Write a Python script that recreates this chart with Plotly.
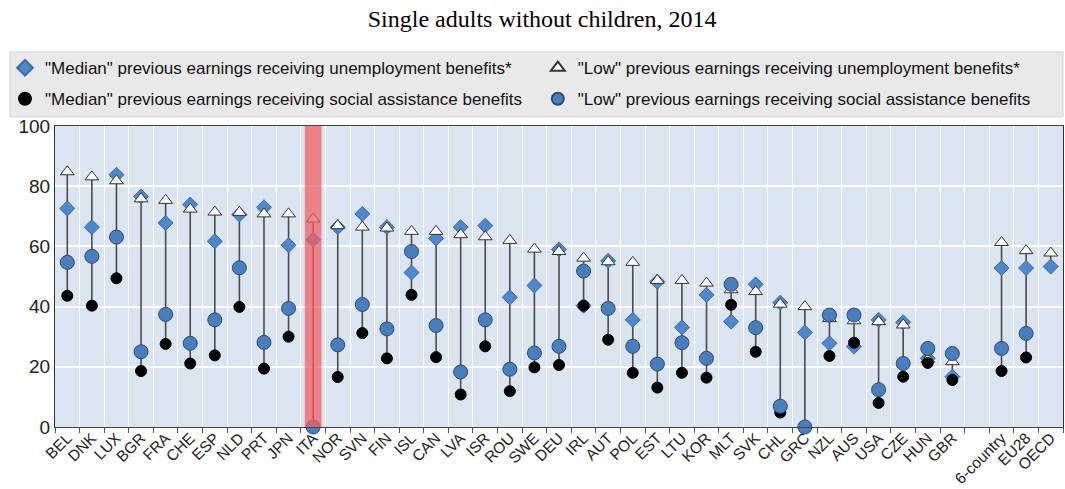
import plotly.graph_objects as go

categories = ["BEL", "DNK", "LUX", "BGR", "FRA", "CHE", "ESP", "NLD", "PRT", "JPN",
              "ITA", "NOR", "SVN", "FIN", "ISL", "CAN", "LVA", "ISR", "ROU", "SWE",
              "DEU", "IRL", "AUT", "POL", "EST", "LTU", "KOR", "MLT", "SVK", "CHL",
              "GRC", "NZL", "AUS", "USA", "CZE", "HUN", "GBR", " ", "6-country", "EU28", "OECD"]

median_unemployment = [72.6, 66.4, 83.8, 76.6, 67.8, 73.9, 61.7, 70.6, 73.0, 60.4,
                       62.2, 66.4, 70.8, 66.4, 51.3, 62.6, 66.4, 66.9, 43.1, 47.0,
                       59.0, 40.3, 55.2, 35.6, 48.3, 33.1, 43.9, 35.0, 47.4, 41.3,
                       31.4, 27.8, 26.7, 35.6, 34.8, 22.8, 16.7, None, 52.8, 52.8, 53.3]

low_unemployment = [84.8, 83.1, 81.8, 75.8, 75.3, 72.4, 71.4, 71.3, 70.8, 70.8,
                    69.1, 66.9, 66.4, 66.1, 65.0, 65.0, 63.9, 63.2, 62.0, 59.1,
                    58.3, 56.1, 54.9, 54.7, 48.7, 48.7, 47.8, 45.6, 45.0, 40.8,
                    40.0, 36.0, 35.3, 35.0, 33.9, 22.5, 21.7, None, 61.3, 58.6, 57.8]

median_social = [43.6, 40.3, 49.4, 18.6, 27.6, 21.1, 23.8, 39.9, 19.4, 30.0,
                 0.0, 16.6, 31.2, 22.8, 43.9, 23.2, 10.8, 26.8, 11.9, 19.8,
                 20.6, 40.3, 29.0, 18.0, 13.1, 18.0, 16.4, 40.6, 25.0, 4.8,
                 0.0, 23.6, 28.0, 8.0, 16.7, 21.3, 15.6, None, 18.6, 23.1, None]

low_social = [54.7, 56.7, 63.1, 25.0, 37.4, 27.8, 35.6, 52.9, 28.1, 39.4,
              0.0, 27.3, 40.7, 32.6, 58.3, 33.7, 18.3, 35.6, 19.2, 24.6,
              26.8, 51.8, 39.4, 26.8, 20.9, 28.0, 22.8, 47.4, 33.0, 6.9,
              0.0, 37.2, 37.2, 12.4, 21.1, 26.1, 24.4, None, 26.1, 31.1, None]

highlight = "ITA"

title_text = "Single adults without children, 2014"
names = ['"Median" previous earnings receiving unemployment benefits*',
         '"Low" previous earnings receiving unemployment benefits*',
         '"Median" previous earnings receiving social assistance benefits',
         '"Low" previous earnings receiving social assistance benefits']

SANS = "Liberation Sans, Arial, sans-serif"

# connector lines from min to max per category
cx, cy = [], []
for i, c in enumerate(categories):
    vals = [s[i] for s in (median_unemployment, low_unemployment, median_social, low_social)
            if s[i] is not None]
    if len(vals) >= 2:
        cx += [c, c, None]
        cy += [min(vals), max(vals), None]

fig = go.Figure()
fig.add_trace(go.Scatter(x=cx, y=cy, mode="lines", showlegend=False, hoverinfo="skip",
                         line=dict(color="#4a4a4a", width=1.6)))
# ensure blank category is registered
fig.add_trace(go.Scatter(x=categories, y=[None] * len(categories), mode="markers",
                         showlegend=False, hoverinfo="skip"))

fig.add_trace(go.Scatter(x=categories, y=median_unemployment, mode="markers", name=names[0],
                         cliponaxis=False, legend="legend", legendgroup="a",
                         marker=dict(symbol="diamond", size=11.5, color="#4f86cc",
                                     line=dict(color="#3d6aa0", width=1))))
fig.add_trace(go.Scatter(x=categories, y=low_unemployment, mode="markers", name=names[1],
                         cliponaxis=False, legend="legend2", legendgroup="b",
                         marker=dict(symbol="triangle-up", size=12, color="white",
                                     line=dict(color="#333333", width=1))))
fig.add_trace(go.Scatter(x=categories, y=median_social, mode="markers", name=names[2],
                         cliponaxis=False, legend="legend", legendgroup="c",
                         marker=dict(symbol="circle", size=11, color="black",
                                     line=dict(color="black", width=1))))
fig.add_trace(go.Scatter(x=categories, y=low_social, mode="markers", name=names[3],
                         cliponaxis=False, legend="legend2", legendgroup="d",
                         marker=dict(symbol="circle", size=14, color="#4a7dbb",
                                     line=dict(color="#2d4b72", width=1))))

hi = categories.index(highlight)
fig.add_shape(type="rect", xref="x", yref="y", x0=hi - 0.34, x1=hi + 0.34, y0=0, y1=100,
              fillcolor="rgba(244,93,100,0.75)", line=dict(width=0), layer="above")

# legend background box
fig.add_shape(type="rect", xref="paper", yref="paper", x0=-0.0446, x1=1.0, y0=1.03, y1=1.246,
              fillcolor="#e9e9e9", line=dict(color="#d4d4d4", width=1), layer="below")

legend_common = dict(orientation="v", yanchor="top", y=1.252, xanchor="left",
                     bgcolor="rgba(0,0,0,0)", font=dict(family=SANS, size=17, color="#111111"),
                     itemsizing="constant", tracegroupgap=6, traceorder="grouped")

fig.update_layout(
    width=1065, height=489,
    margin=dict(l=55, r=2, t=126, b=62, autoexpand=False),
    paper_bgcolor="white",
    plot_bgcolor="#dbe5f1",
    title=dict(text=title_text, x=0.509, xanchor="center", y=0.962, yanchor="middle",
               font=dict(family="Liberation Serif, Times New Roman, serif", size=24, color="black")),
    showlegend=True,
    legend=dict(x=-0.0496, **legend_common),
    legend2=dict(x=0.479, **legend_common),
    font=dict(family=SANS, color="#222222"),
)
fig.update_xaxes(type="category", categoryorder="array", categoryarray=categories,
                 tickson="boundaries", ticks="outside", ticklen=5, tickcolor="#555555",
                 showgrid=True, gridcolor="white", gridwidth=1,
                 tickangle=-45, tickfont=dict(family=SANS, size=15.5, color="#222222"),
                 ticklabelstandoff=-5,
                 showline=True, linecolor="#444444", linewidth=1, mirror=True,
                 range=[-0.5, len(categories) - 0.5])
fig.update_yaxes(range=[0, 100], dtick=20, showgrid=True, gridcolor="white", gridwidth=1.5,
                 tickfont=dict(family=SANS, size=19, color="#222222"),
                 showline=True, linecolor="#333333", linewidth=1, mirror=True,
                 zeroline=False, ticks="", ticklen=0)

fig.write_html("out.html", config={"displayModeBar": False},
               post_script="document.body.style.margin='0px';")
